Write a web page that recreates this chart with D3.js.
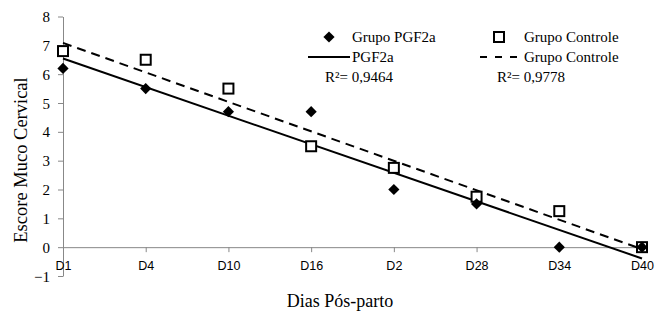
<!DOCTYPE html>
<html>
<head>
<meta charset="utf-8">
<script src="https://cdn.jsdelivr.net/npm/d3@7"></script>
<style>
body { margin: 0; background: #fff; }
svg { display: block; }
</style>
</head>
<body>
<div id="chart"></div>
<script>
var dias = ["D1", "D4", "D10", "D16", "D2", "D28", "D34", "D40"];
var pgf2a = [6.2, 5.5, 4.7, 4.7, 2.0, 1.5, 0, 0];
var controle = [6.8, 6.5, 5.5, 3.5, 2.75, 1.75, 1.25, 0];
var yTicks = [-1, 0, 1, 2, 3, 4, 5, 6, 7, 8];

var width = 659, height = 312;
var serif = "Liberation Serif";

var svg = d3.select("#chart").append("svg")
    .attr("width", width).attr("height", height);

var x = d3.scalePoint().domain(dias).range([63, 642]);
var y = d3.scaleLinear().domain([-1, 8]).range([276, 16.5]);

// y axis
var yAxis = svg.append("g")
    .attr("transform", "translate(63,0)")
    .call(d3.axisLeft(y).tickValues(yTicks).tickSize(5).tickSizeOuter(0));
yAxis.select(".domain").attr("stroke", "#888");
yAxis.selectAll(".tick line").attr("stroke", "#888");
yAxis.selectAll("text")
    .attr("x", -13)
    .attr("dy", "0.34em")
    .attr("font-family", serif)
    .attr("font-size", 15)
    .attr("fill", "#000");

// x axis at y = 0
var xAxis = svg.append("g")
    .attr("transform", "translate(0," + y(0) + ")")
    .call(d3.axisBottom(x).tickSize(5).tickSizeOuter(0));
xAxis.select(".domain").attr("stroke", "#888");
xAxis.selectAll(".tick line").attr("stroke", "#888");
xAxis.selectAll("text")
    .attr("y", 23)
    .attr("dy", 0)
    .attr("font-family", "Liberation Sans")
    .attr("font-size", 12.5)
    .attr("fill", "#000");

// linear trend lines
function trend(vals) {
    var n = vals.length, xs = vals.map((d, i) => i + 1);
    var mx = d3.mean(xs), my = d3.mean(vals);
    var sxy = d3.sum(xs, (d, i) => (d - mx) * (vals[i] - my));
    var sxx = d3.sum(xs, d => (d - mx) * (d - mx));
    var b = sxy / sxx, a = my - b * mx;
    return [{i: 0, v: a + b}, {i: n - 1, v: a + b * n}];
}
var line = d3.line().x(d => x(dias[d.i])).y(d => y(d.v));

svg.append("path").attr("d", line(trend(controle)))
    .attr("fill", "none").attr("stroke", "#000").attr("stroke-width", 2)
    .attr("stroke-dasharray", "9,6");
svg.append("path").attr("d", line(trend(pgf2a)))
    .attr("fill", "none").attr("stroke", "#000").attr("stroke-width", 2);

// markers
var sq = 10;
svg.append("g").selectAll("rect").data(controle).enter().append("rect")
    .attr("x", (d, i) => x(dias[i]) - sq / 2)
    .attr("y", d => y(d) - sq / 2)
    .attr("width", sq).attr("height", sq)
    .attr("fill", "#fff").attr("stroke", "#000").attr("stroke-width", 2);

var diamond = d3.symbol().type(d3.symbolDiamond2).size(80);
svg.append("g").selectAll("path").data(pgf2a).enter().append("path")
    .attr("d", diamond)
    .attr("transform", (d, i) => "translate(" + x(dias[i]) + "," + y(d) + ")")
    .attr("fill", "#000");

// legend
var leg = svg.append("g");
function legText(xp, yp, t) {
    leg.append("text").attr("x", xp).attr("y", yp)
        .attr("font-family", serif).attr("font-size", 15)
        .text(t);
}
leg.append("path").attr("d", diamond)
    .attr("transform", "translate(329,37)").attr("fill", "#000");
legText(352, 42, "Grupo PGF2a");
leg.append("line").attr("x1", 308).attr("x2", 350).attr("y1", 57).attr("y2", 57)
    .attr("stroke", "#000").attr("stroke-width", 2);
legText(352, 62, "PGF2a");
legText(325, 82, "R²= 0,9464");

leg.append("rect").attr("x", 494).attr("y", 32).attr("width", 10).attr("height", 10)
    .attr("fill", "#fff").attr("stroke", "#000").attr("stroke-width", 2);
legText(524, 42, "Grupo Controle");
leg.append("line").attr("x1", 480).attr("x2", 521).attr("y1", 57).attr("y2", 57)
    .attr("stroke", "#000").attr("stroke-width", 2).attr("stroke-dasharray", "7,8");
legText(524, 62, "Grupo Controle");
legText(497, 82, "R²= 0,9778");

// axis titles
svg.append("text")
    .attr("x", 340).attr("y", 307)
    .attr("text-anchor", "middle")
    .attr("font-family", serif).attr("font-size", 18)
    .text("Dias  Pós-parto");
svg.append("text")
    .attr("transform", "translate(27,160) rotate(-90)")
    .attr("text-anchor", "middle")
    .attr("font-family", serif).attr("font-size", 18.5)
    .text("Escore Muco Cervical");
</script>
</body>
</html>
